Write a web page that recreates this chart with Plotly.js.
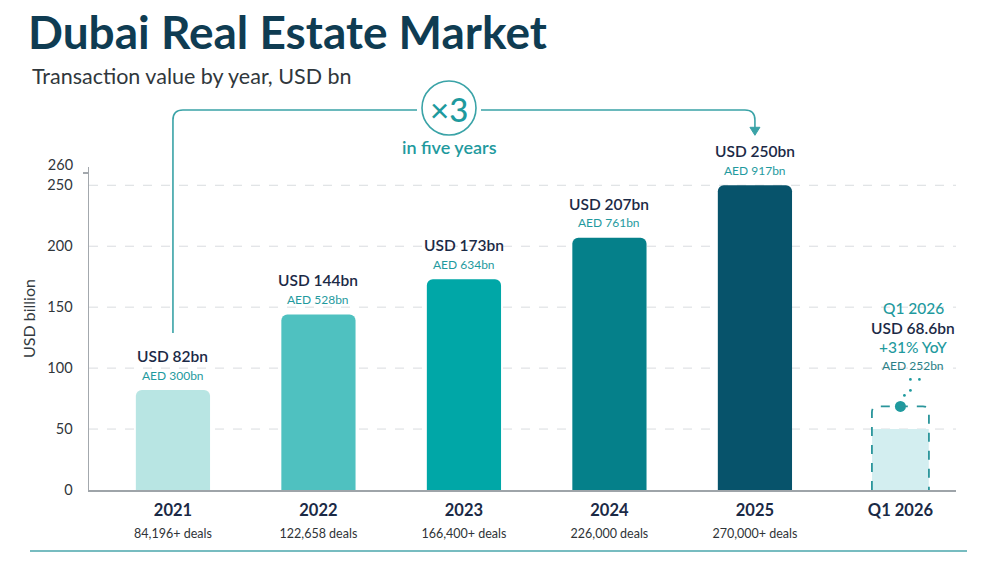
<!DOCTYPE html>
<html>
<head>
<meta charset="utf-8">
<script src="https://cdn.plot.ly/plotly-3.0.1.min.js"></script>
<style>html,body{margin:0;padding:0;background:#fff;}#chart{width:1000px;height:563px;}</style>
</head>
<body>
<div id="chart"></div>
<script>
// ---- data ----
const categories = ['2021', '2022', '2023', '2024', '2025', 'Q1 2026'];
const years = ['2021', '2022', '2023', '2024', '2025'];
const usdBn = [82, 144, 173, 207, 250];
const aedBn = [300, 528, 634, 761, 917];
const deals = ['84,196+ deals', '122,658 deals', '166,400+ deals', '226,000 deals', '270,000+ deals'];
const q1Label = 'Q1 2026';
const q1Usd = [68.6];
const q1Aed = [252];
const q1Yoy = ['+31% YoY'];
const q1Fill = [50];
const yTicks = [0, 50, 100, 150, 200, 250];
const yTopTick = [260];
const gridVals = [50, 100, 150, 200, 250];
const growthText = '×3';
const growthSub = 'in five years';

// ---- styling ----
const FONT = 'Lato, "Open Sans", sans-serif';
const NAVY = '#1b2a46';
const TEAL = '#1f9a9e';
const LINE = '#3aa3a7';
const barColors = ['#b8e5e3', '#4fc1c0', '#00a7a7', '#05808a', '#07536b'];

// plot area geometry (pixels)
const L = 89, R = 956, T = 167, B = 490;
const W = R - L, H = B - T;
const xr = [-0.577, 5.382];
const yMax = 265;
const xPix = i => L + (i - xr[0]) / (xr[1] - xr[0]) * W;
const yPix = v => B - v / yMax * H;
const px = p => (p - L) / W;
const py = p => (B - p) / H;
const P = (x, y) => px(x).toFixed(5) + ',' + py(y).toFixed(5);
const q1Idx = categories.indexOf(q1Label);

const traces = [
  {
    type: 'bar', x: years, y: usdBn, width: 0.51,
    marker: {color: barColors, cornerradius: 6, line: {width: 0}},
    hoverinfo: 'skip', showlegend: false
  },
  {
    type: 'bar', x: [q1Label], y: q1Fill, width: 0.39,
    marker: {color: '#d3eef0', line: {width: 0}},
    hoverinfo: 'skip', showlegend: false
  },
  {
    type: 'scatter', mode: 'markers', x: [q1Label], y: q1Usd,
    marker: {size: 11, color: TEAL}, cliponaxis: false,
    hoverinfo: 'skip', showlegend: false
  },
  { // carrier for the top tick axis
    type: 'scatter', mode: 'markers', x: [q1Label], y: [0], yaxis: 'y2',
    marker: {size: 1, opacity: 0}, hoverinfo: 'skip', showlegend: false
  }
];

const annotations = [];
years.forEach((yr, i) => {
  const xi = categories.indexOf(yr);
  annotations.push({x: xi, y: usdBn[i], xref: 'x', yref: 'y', text: 'USD ' + usdBn[i] + 'bn',
    showarrow: false, yanchor: 'middle', yshift: 34,
    font: {family: FONT, size: 15.5, color: NAVY, weight: 600}});
  annotations.push({x: xi, y: usdBn[i], xref: 'x', yref: 'y', text: 'AED ' + aedBn[i] + 'bn',
    showarrow: false, yanchor: 'middle', yshift: 15,
    font: {family: FONT, size: 12, color: TEAL}});
});
// Q1 2026 stack
const q1Lines = [
  {t: q1Label, s: 98, size: 15.5, c: TEAL, w: 500},
  {t: 'USD ' + q1Usd[0] + 'bn', s: 78, size: 15.5, c: NAVY, w: 600},
  {t: q1Yoy[0], s: 59, size: 15.5, c: TEAL, w: 500},
  {t: 'AED ' + q1Aed[0] + 'bn', s: 41, size: 12, c: '#2a7f86', w: 400}
];
q1Lines.forEach(l => annotations.push({x: q1Idx, y: q1Usd[0], xref: 'x', yref: 'y', text: l.t,
  showarrow: false, yanchor: 'middle', yshift: l.s, xshift: 13,
  font: {family: FONT, size: l.size, color: l.c, weight: l.w}}));

// subtitle
annotations.push({xref: 'paper', yref: 'paper', x: px(30), y: py(76), xanchor: 'left', yanchor: 'middle',
  text: 'Transaction value by year, USD bn', showarrow: false,
  font: {family: FONT, size: 21.5, color: '#30373c'}});
// y title
annotations.push({xref: 'paper', yref: 'paper', x: px(28), y: py(318), xanchor: 'center', yanchor: 'middle',
  text: 'USD billion', textangle: -90, showarrow: false,
  font: {family: FONT, size: 16, color: '#333a40'}});
// growth callout
const cx = 449, cy = 108, cr = 27;
annotations.push({xref: 'paper', yref: 'paper', x: px(cx), y: py(cy + 1), xanchor: 'center', yanchor: 'middle',
  text: growthText, showarrow: false, font: {family: FONT, size: 33, color: TEAL, weight: 500}});
annotations.push({xref: 'paper', yref: 'paper', x: px(cx), y: py(147), xanchor: 'center', yanchor: 'middle',
  text: growthSub, showarrow: false, font: {family: FONT, size: 18, color: TEAL, weight: 600}});

const shapes = [];
gridVals.forEach(v => shapes.push({type: 'line', xref: 'paper', yref: 'y', x0: 0, x1: 1, y0: v, y1: v,
  line: {color: '#d9dcdf', width: 1, dash: 'dash'}, layer: 'below'}));

// connector from 2021 up, across, to 2025
const x0 = xPix(0), x4 = xPix(4), hy = 110, rr = 10;
const startY = yPix(usdBn[0]) - 57;
const tipY = yPix(usdBn[4]) - 50;
shapes.push({type: 'path', xref: 'paper', yref: 'paper',
  path: 'M' + P(x0, startY) + ' L' + P(x0, hy + rr) + ' Q' + P(x0, hy) + ' ' + P(x0 + rr, hy) + ' L' + P(cx - cr - 5, hy),
  line: {color: LINE, width: 1.6}});
shapes.push({type: 'path', xref: 'paper', yref: 'paper',
  path: 'M' + P(cx + cr + 5, hy) + ' L' + P(x4 - rr, hy) + ' Q' + P(x4, hy) + ' ' + P(x4, hy + rr) + ' L' + P(x4, tipY - 6),
  line: {color: LINE, width: 1.6}});
shapes.push({type: 'path', xref: 'paper', yref: 'paper',
  path: 'M' + P(x4 - 5, tipY - 8) + ' L' + P(x4 + 5, tipY - 8) + ' L' + P(x4, tipY) + ' Z',
  fillcolor: LINE, line: {color: LINE, width: 1}});
shapes.push({type: 'circle', xref: 'paper', yref: 'paper',
  x0: px(cx - cr), x1: px(cx + cr), y0: py(cy + cr), y1: py(cy - cr),
  line: {color: LINE, width: 1.6}, fillcolor: '#ffffff'});

// Q1 dashed outline
const qx = xPix(q1Idx), qh = 28.5, qt = yPix(q1Usd[0]), qr = 6;
shapes.push({type: 'path', xref: 'paper', yref: 'paper',
  path: 'M' + P(qx - qh, B) + ' L' + P(qx - qh, qt + qr) + ' Q' + P(qx - qh, qt) + ' ' + P(qx - qh + qr, qt) +
        ' L' + P(qx + qh - qr, qt) + ' Q' + P(qx + qh, qt) + ' ' + P(qx + qh, qt + qr) + ' L' + P(qx + qh, B),
  line: {color: '#2a959b', width: 1.8, dash: 'dash'}});
// dotted trail
[[4, -11], [10, -16], [10, -27], [19, -27]].forEach(d => {
  const dx = qx + d[0], dy = qt + d[1];
  shapes.push({type: 'circle', xref: 'paper', yref: 'paper', x0: px(dx - 1.4), x1: px(dx + 1.4),
    y0: py(dy + 1.4), y1: py(dy - 1.4), fillcolor: TEAL, line: {width: 0}});
});
// bottom rule
shapes.push({type: 'line', xref: 'paper', yref: 'paper', x0: px(30), x1: px(967), y0: py(551), y1: py(551),
  line: {color: '#4aa6ab', width: 1.5}});

const tickText = categories.map((c, i) => i < deals.length
  ? '<b>' + c + '</b><br><span style="font-size:12.5px;font-weight:normal;fill:#2f3438">' + deals[i] + '</span>'
  : '<b>' + c + '</b>');

const layout = {
  width: 1000, height: 563,
  margin: {l: L, r: 1000 - R, t: T, b: 563 - B},
  paper_bgcolor: '#ffffff', plot_bgcolor: '#ffffff',
  font: {family: FONT},
  title: {text: 'Dubai Real Estate Market', xref: 'container', yref: 'container',
    x: 0.028, xanchor: 'left', y: 1 - 33 / 563, yanchor: 'middle',
    font: {family: FONT, size: 46, color: '#0f3c52', weight: 700}},
  barmode: 'overlay',
  showlegend: false,
  xaxis: {type: 'category', categoryorder: 'array', categoryarray: categories,
    range: xr, tickvals: categories, ticktext: tickText,
    showline: true, linecolor: '#9ea4a9', linewidth: 1.5, ticks: '', showgrid: false, zeroline: false,
    ticklabelstandoff: 5, tickfont: {family: FONT, size: 16.5, color: NAVY}, fixedrange: true},
  yaxis: {range: [0, yMax], tickvals: yTicks, ticktext: yTicks.map(String),
    showline: true, linecolor: '#a3a8ad', linewidth: 1.5, ticks: '', showgrid: false, zeroline: false,
    ticklabelstandoff: 12, tickfont: {family: FONT, size: 14.5, color: '#30363b'}, fixedrange: true},
  yaxis2: {overlaying: 'y', side: 'left', anchor: 'x', range: [0, yMax], tickvals: yTopTick, ticktext: yTopTick.map(String),
    showline: false, ticks: 'outside', ticklen: 5, tickcolor: '#a3a8ad', tickwidth: 1.2,
    showgrid: false, zeroline: false, ticklabelshift: -8, ticklabelstandoff: 7,
    tickfont: {family: FONT, size: 14.5, color: '#30363b'}, fixedrange: true},
  annotations: annotations,
  shapes: shapes
};

Plotly.newPlot('chart', traces, layout, {displayModeBar: false, staticPlot: true});
</script>
</body>
</html>
